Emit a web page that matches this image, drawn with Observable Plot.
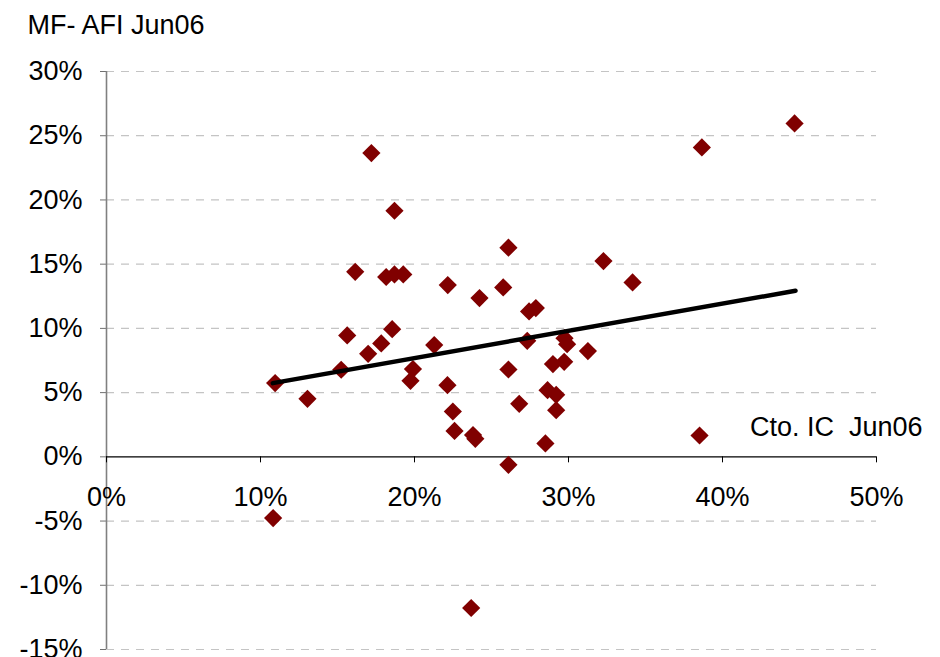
<!DOCTYPE html>
<html>
<head>
<meta charset="utf-8">
<script src="https://cdn.jsdelivr.net/npm/d3@7"></script>
<script src="https://cdn.jsdelivr.net/npm/@observablehq/plot@0.6"></script>
<style>
  html, body { margin: 0; padding: 0; background: #fff; }
  #chart svg { display: block; }
</style>
</head>
<body>
<div id="chart"></div>
<script>
// Cto. IC (x, %) against MF- AFI (y, %), June 2006
const ctoIC = [
  10.95, 10.82, 13.05, 15.24, 15.63, 16.15, 16.99, 17.2, 17.84, 18.16,
  18.55, 18.7, 18.7, 19.27, 19.74, 19.9, 21.28, 22.14, 22.16, 22.49,
  22.6, 23.68, 23.8, 23.95, 24.22, 25.76, 26.1, 26.1, 26.1, 26.8,
  27.32, 27.44, 27.88, 28.5, 28.64, 28.99, 29.2, 29.2, 29.72, 29.74,
  29.91, 31.26, 32.27, 34.16, 38.51, 38.66, 44.68
];
const mfAFI = [
  5.74, -4.77, 4.52, 6.78, 9.45, 14.4, 8.02, 23.65, 8.83, 14.0,
  9.94, 14.2, 19.16, 14.2, 5.92, 6.83, 8.7, 5.58, 13.37, 3.53,
  2.02, -11.77, 1.7, 1.4, 12.36, 13.19, 16.28, 6.8, -0.62, 4.13,
  9.03, 11.32, 11.58, 1.04, 5.19, 7.22, 4.83, 3.63, 7.4, 9.24,
  8.77, 8.23, 15.24, 13.58, 1.66, 24.09, 25.96
];

// trend line end points
const trendX = [10.8, 44.74];
const trendY = [5.74, 12.93];

// axis ticks
const xTicks = [0, 10, 20, 30, 40, 50];
const yTicks = [-15, -10, -5, 0, 5, 10, 15, 20, 25, 30];

const xDomain = [0, 50];
const yDomain = [-15, 30];

const yTitle = "MF- AFI Jun06";
const xTitle = "Cto. IC\u00a0 Jun06";

const points = ctoIC.map((x, i) => ({x, y: mfAFI[i]}));
const trend = trendX.map((x, i) => ({x, y: trendY[i]}));

const W = 940, H = 657;
const mTop = 71, mBottom = 8, mLeft = 106, mRight = 64;
const innerH = H - mTop - mBottom;
// vertical offset from the frame bottom to the y = 0 line
const zeroShift = -((0 - yDomain[0]) / (yDomain[1] - yDomain[0])) * innerH;

const fmt = d => d + "%";
const font = "'Liberation Sans', Arial, sans-serif";

const chart = Plot.plot({
  width: W,
  height: H,
  marginTop: mTop,
  marginBottom: mBottom,
  marginLeft: mLeft,
  marginRight: mRight,
  style: {fontFamily: font, fontSize: "27px", color: "#000", background: "#fff"},
  x: {domain: xDomain},
  y: {domain: yDomain},
  marks: [
    // dashed horizontal gridlines
    Plot.ruleY(yTicks.filter(d => d !== 0), {
      stroke: "#c4c4c4", strokeWidth: 1.2, strokeDasharray: "8,7"
    }),
    // y axis
    Plot.axisY({
      ticks: yTicks, tickFormat: fmt, tickSize: 6, tickPadding: 18,
      fontSize: 27, stroke: "#707070", label: null
    }),
    Plot.ruleX([0], {stroke: "#808080", strokeWidth: 1.6}),
    // x axis drawn along y = 0
    Plot.ruleY([0], {stroke: "#000", strokeWidth: 1.2}),
    Plot.axisX({
      ticks: xTicks, tickFormat: fmt, tickSize: 6, tickPadding: 23.5,
      fontSize: 27, stroke: "#000", label: null, dy: zeroShift
    }),
    // observations
    Plot.dot(points, {
      x: "x", y: "y", symbol: "diamond2", r: 8.2, fill: "#800000", stroke: "none"
    }),
    // trend line, drawn over the points
    Plot.line(trend, {
      x: "x", y: "y", stroke: "#000", strokeWidth: 4.5, strokeLinecap: "round"
    }),
    // axis titles
    Plot.text([yTitle], {
      frameAnchor: "top-left", text: d => d, textAnchor: "start", lineAnchor: "middle",
      dx: 27 - mLeft, dy: -46.3, fontSize: 27, fill: "#000"
    }),
    Plot.text([xTitle], {
      frameAnchor: "top-right", text: d => d, textAnchor: "end", lineAnchor: "middle",
      dx: 46, dy: 426.4 - mTop, fontSize: 27, fill: "#000"
    })
  ]
});

document.getElementById("chart").appendChild(chart);
</script>
</body>
</html>
